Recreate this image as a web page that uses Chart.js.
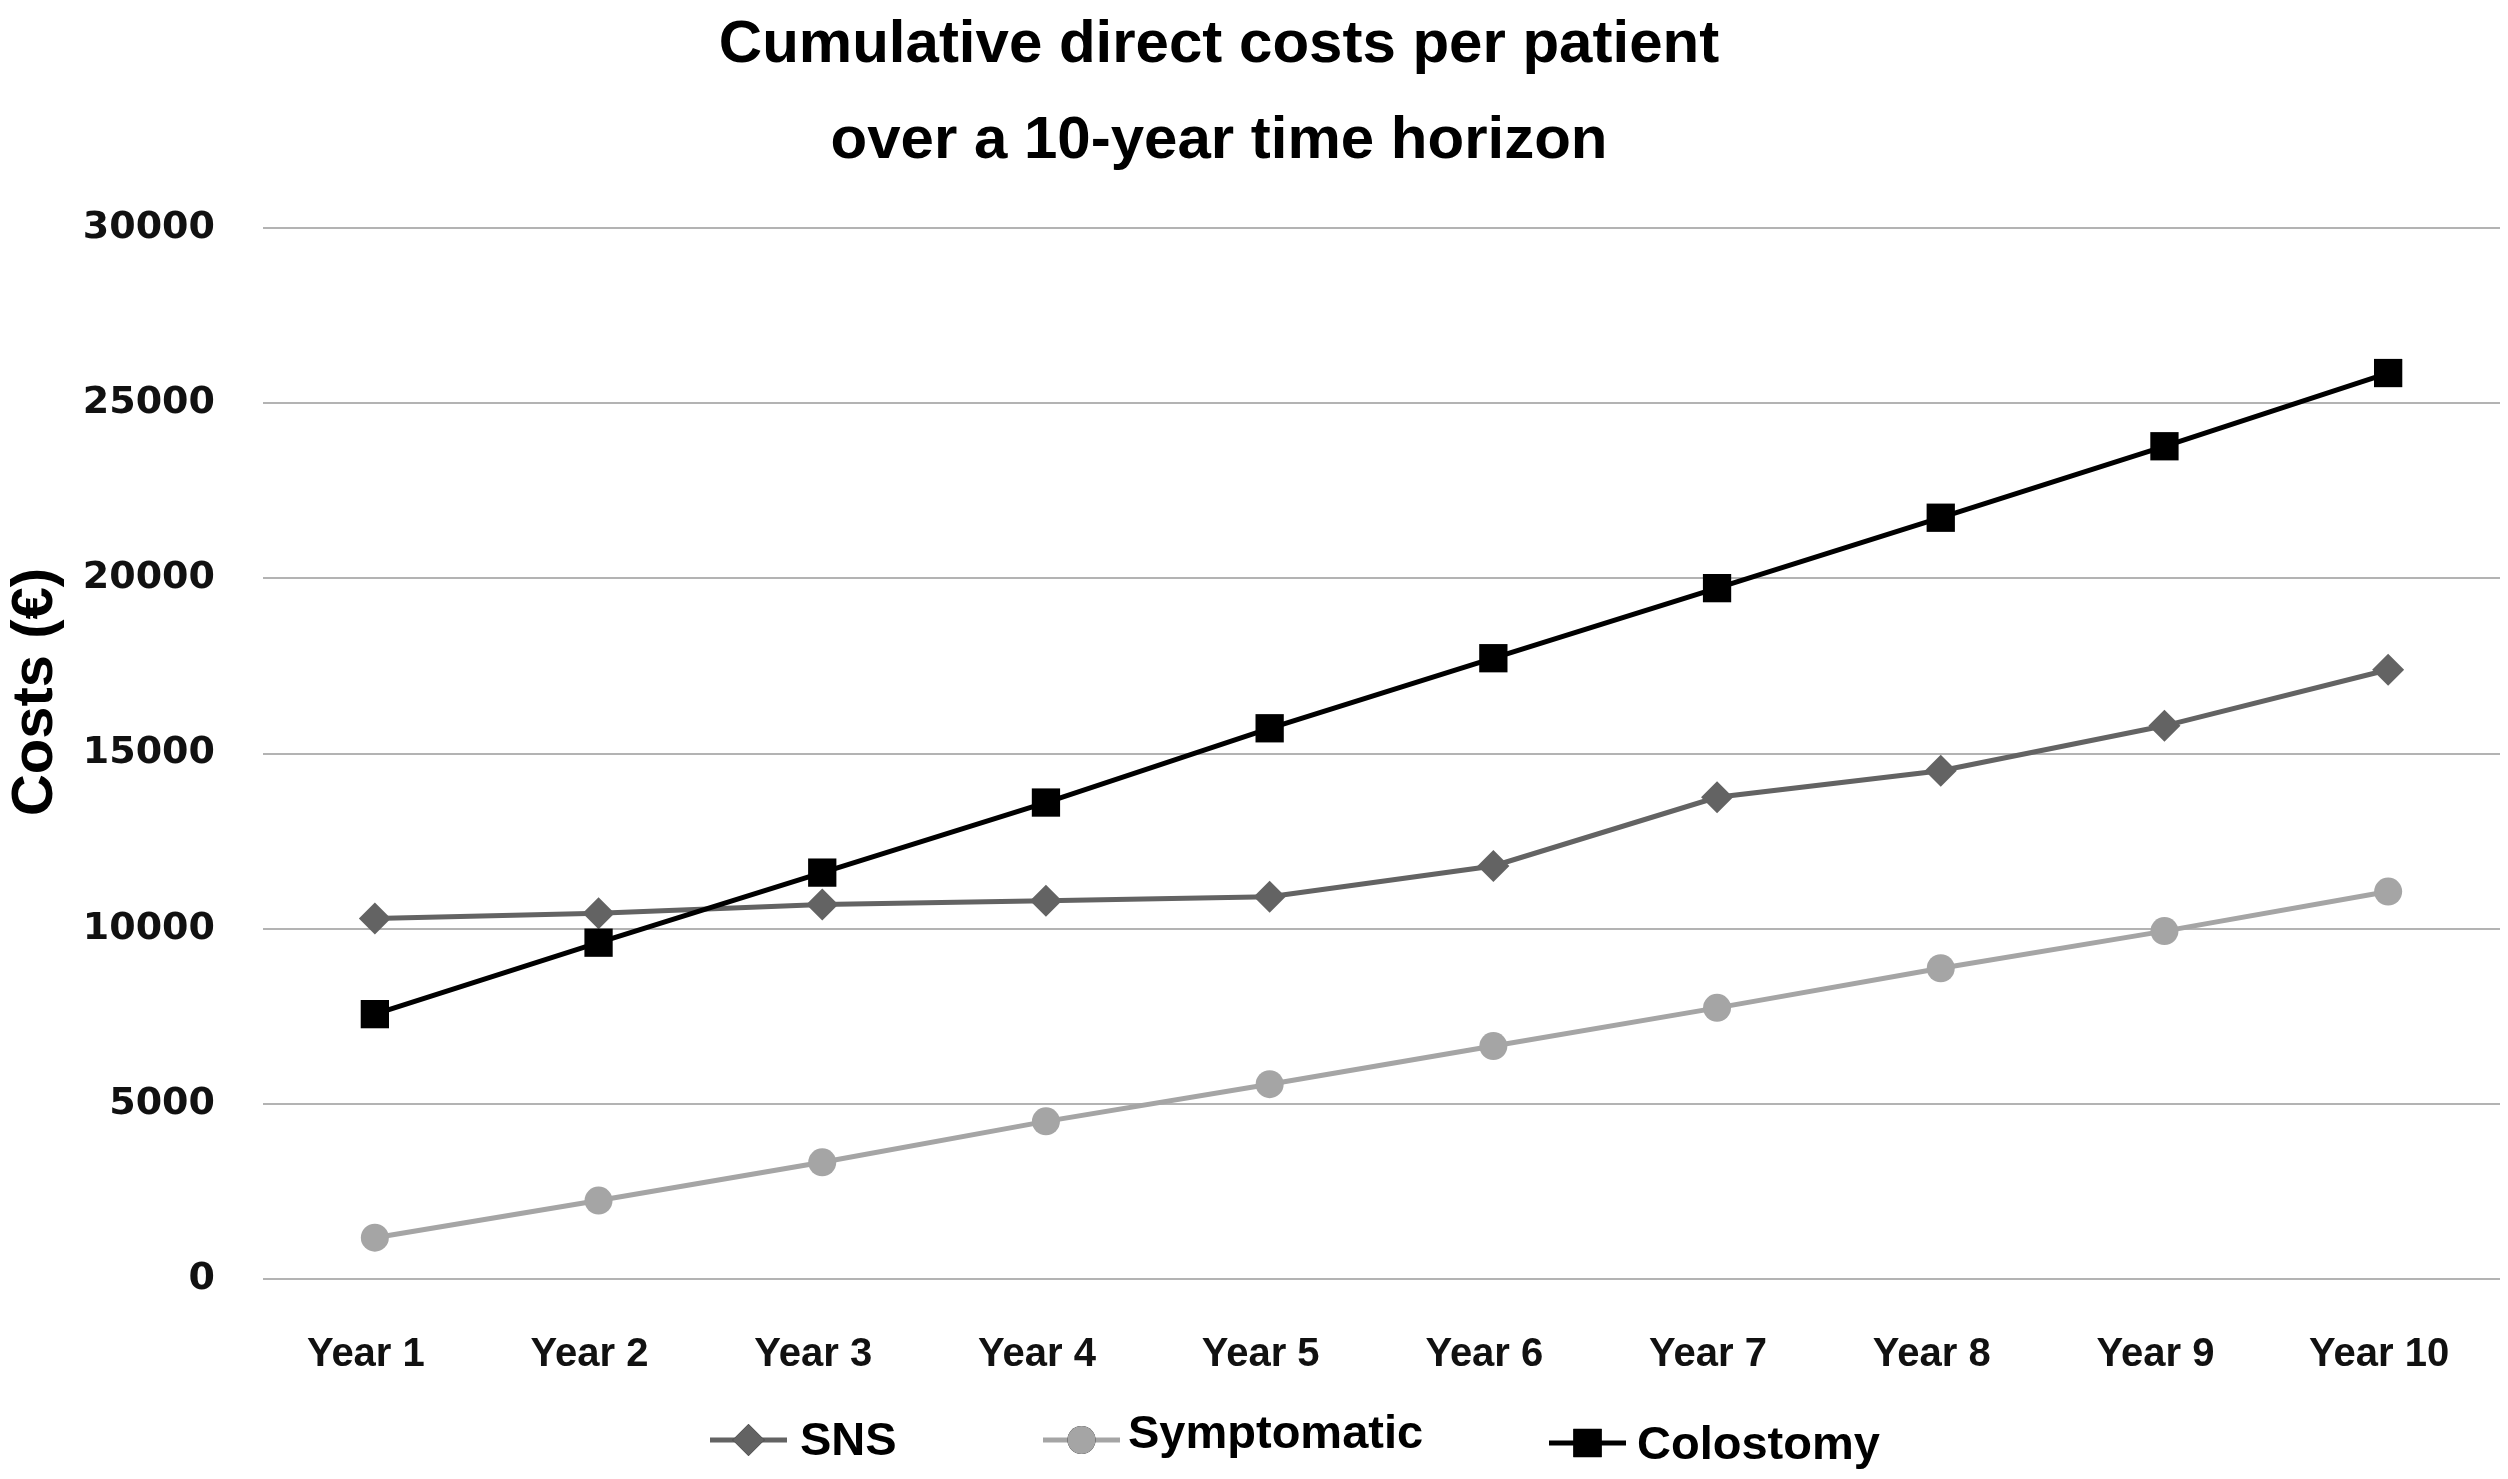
<!DOCTYPE html>
<html>
<head>
<meta charset="utf-8">
<script src="https://cdn.jsdelivr.net/npm/chart.js@4.4.1/dist/chart.umd.min.js"></script>
<style>
  html, body { margin: 0; padding: 0; background: #fff; }
  #wrap { width: 2508px; height: 1479px; }
</style>
</head>
<body>
<div id="wrap"><canvas id="costChart" width="2508" height="1479"></canvas></div>
<script>
// data
const categories = ['Year 1', 'Year 2', 'Year 3', 'Year 4', 'Year 5', 'Year 6', 'Year 7', 'Year 8', 'Year 9', 'Year 10'];
const snsCosts = [10290, 10440, 10690, 10800, 10910, 11790, 13750, 14510, 15790, 17390];
const symptomaticCosts = [1180, 2240, 3330, 4500, 5560, 6650, 7740, 8870, 9930, 11060];
const colostomyCosts = [7560, 9600, 11600, 13600, 15720, 17720, 19720, 21730, 23770, 25860];
const yTickValues = [0, 5000, 10000, 15000, 20000, 25000, 30000];

const titleLines = ['Cumulative direct costs per patient', 'over a 10-year time horizon'];
const yTitle = 'Costs (€)';

const SANS = '"Liberation Sans", Arial, sans-serif';

// title, axis title and legend drawn by hand (legend needs line + marker)
const decorations = {
  id: 'decorations',
  afterDraw(chart) {
    const ctx = chart.ctx;
    ctx.save();
    ctx.fillStyle = '#000';
    ctx.textBaseline = 'middle';

    // title
    ctx.font = 'bold 60px ' + SANS;
    ctx.textAlign = 'center';
    ctx.fillText(titleLines[0], 1219, 45);
    ctx.fillText(titleLines[1], 1219, 141);

    // y axis title
    ctx.save();
    ctx.translate(36, 692);
    ctx.rotate(-Math.PI / 2);
    ctx.font = 'bold 58px ' + SANS;
    ctx.fillText(yTitle, 0, 0);
    ctx.restore();

    // legend
    const items = [
      { ds: 0, x1: 710, x2: 787, tx: 800, y: 1440, ty: 1442 },
      { ds: 1, x1: 1043, x2: 1120, tx: 1128, y: 1440, ty: 1435 },
      { ds: 2, x1: 1549, x2: 1626, tx: 1637, y: 1443, ty: 1446 }
    ];
    ctx.font = 'bold 47px ' + SANS;
    ctx.textAlign = 'left';
    items.forEach(it => {
      const ds = chart.data.datasets[it.ds];
      ctx.strokeStyle = ds.borderColor;
      ctx.lineWidth = ds.borderWidth;
      ctx.beginPath();
      ctx.moveTo(it.x1, it.y);
      ctx.lineTo(it.x2, it.y);
      ctx.stroke();
      Chart.helpers.drawPoint(ctx, {
        pointStyle: ds.pointStyle,
        radius: ds.pointRadius,
        borderWidth: 0
      }, (it.x1 + it.x2) / 2, it.y);
      ctx.fillStyle = ds.pointBackgroundColor;
      ctx.fill();
      ctx.fillStyle = '#000';
      ctx.fillText(ds.label, it.tx, it.ty);
    });
    ctx.restore();
  }
};

const ctx = document.getElementById('costChart').getContext('2d');
new Chart(ctx, {
  type: 'line',
  data: {
    labels: categories,
    datasets: [
      {
        label: 'SNS',
        data: snsCosts,
        borderColor: '#636363',
        borderWidth: 5,
        pointStyle: 'rectRot',
        pointRadius: 16,
        pointBackgroundColor: '#636363',
        pointBorderWidth: 0,
        order: 3
      },
      {
        label: 'Symptomatic',
        data: symptomaticCosts,
        borderColor: '#a5a5a5',
        borderWidth: 5,
        pointStyle: 'circle',
        pointRadius: 14,
        pointBackgroundColor: '#a5a5a5',
        pointBorderWidth: 0,
        order: 2
      },
      {
        label: 'Colostomy',
        data: colostomyCosts,
        borderColor: '#000000',
        borderWidth: 5,
        pointStyle: 'rect',
        pointRadius: 20,
        pointBackgroundColor: '#000000',
        pointBorderWidth: 0,
        order: 1
      }
    ]
  },
  options: {
    responsive: false,
    devicePixelRatio: 1,
    animation: false,
    layout: { autoPadding: false, padding: { top: 228, bottom: 108, left: 0, right: 8 } },
    plugins: {
      legend: { display: false },
      title: { display: false },
      tooltip: { enabled: false }
    },
    scales: {
      x: {
        offset: true,
        grid: { display: false, offset: true },
        border: { display: false },
        ticks: {
          color: '#111',
          font: { family: SANS, size: 40, weight: 'bold' },
          padding: 44,
          labelOffset: -9,
          maxRotation: 0,
          autoSkip: false
        },
        afterFit(scale) {
          scale.height = 92;
          scale.paddingLeft = 0;
          scale.paddingRight = 0;
        }
      },
      y: {
        min: 0,
        max: 30000,
        afterBuildTicks(scale) { scale.ticks = yTickValues.map(v => ({ value: v })); },
        grid: { color: '#b3b3b3', lineWidth: 2, drawTicks: false },
        border: { display: false },
        ticks: {
          color: '#111',
          font: { family: '"DejaVu Sans", Verdana, sans-serif', size: 38, weight: 'bold' },
          padding: 48,
          callback: v => String(v)
        },
        afterFit(scale) { scale.width = 263; }
      }
    }
  },
  plugins: [decorations]
});
</script>
</body>
</html>
